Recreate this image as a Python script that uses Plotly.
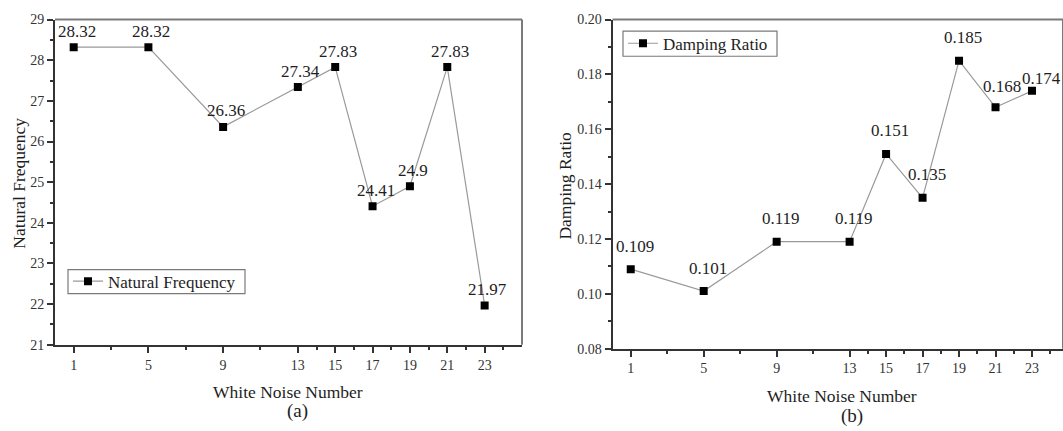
import plotly.graph_objects as go

# White noise test sequence
noise_no = [1, 5, 9, 13, 15, 17, 19, 21, 23]
nat_freq = [28.32, 28.32, 26.36, 27.34, 27.83, 24.41, 24.9, 27.83, 21.97]
damping = [0.109, 0.101, 0.119, 0.119, 0.151, 0.135, 0.185, 0.168, 0.174]

x_major = [1, 5, 9, 13, 15, 17, 19, 21, 23]
x_minor = [3, 7, 11, 14, 16, 18, 20, 22, 24]

FONT = "Liberation Serif"
TXT = "#1e1e1e"
AXIS = "#333333"
BOX = "#7a7a7a"
LINE = "#9a9a9a"

W, H = 1063, 431


def px_x(p):
    return p / W


def px_y(p):
    return 1 - p / H


fig = go.Figure()

fig.add_trace(go.Scatter(
    x=noise_no, y=nat_freq, mode="lines+markers", name="Natural Frequency",
    line=dict(color=LINE, width=1.2),
    marker=dict(symbol="square", size=8, color="#000000"),
    xaxis="x", yaxis="y", legend="legend",
))
fig.add_trace(go.Scatter(
    x=noise_no, y=damping, mode="lines+markers", name="Damping Ratio",
    line=dict(color=LINE, width=1.2),
    marker=dict(symbol="square", size=8, color="#000000"),
    xaxis="x2", yaxis="y2", legend="legend2",
))

tick_font = dict(family=FONT, size=14, color="#333333")


def xaxis_cfg(domain, rng):
    return dict(
        domain=domain, range=rng, tickmode="array", tickvals=x_major,
        ticks="outside", ticklen=6, tickwidth=1.5, tickcolor=AXIS,
        showline=True, linecolor=AXIS, linewidth=2, showgrid=False, zeroline=False,
        tickfont=tick_font,
        minor=dict(tickmode="array", tickvals=x_minor, ticks="outside",
                   ticklen=3, tickwidth=1.5, tickcolor=AXIS, showgrid=False),
    )


def yaxis_cfg(domain, rng, dtick, minor_dtick, fmt, anchor):
    return dict(
        domain=domain, range=rng, dtick=dtick, tick0=rng[0], anchor=anchor,
        ticks="outside", ticklen=6, tickwidth=1.5, tickcolor=AXIS,
        showline=True, linecolor=AXIS, linewidth=2, showgrid=False, zeroline=False,
        tickfont=tick_font, tickformat=fmt,
        minor=dict(dtick=minor_dtick, ticks="outside", ticklen=3, tickwidth=1.5,
                   tickcolor=AXIS, showgrid=False),
    )


dom_a = [px_x(55), px_x(522)]
dom_b = [px_x(612.5), 1.0]
ydom_a = [px_y(350), px_y(13)]
ydom_b = [px_y(354), px_y(13)]

legend_common = dict(xanchor="left", yanchor="middle", borderwidth=0,
                     bgcolor="rgba(0,0,0,0)",
                     font=dict(family=FONT, size=17, color=TXT),
                     tracegroupgap=0, itemwidth=30)

fig.update_layout(
    width=W, height=H, margin=dict(l=0, r=0, t=0, b=0),
    paper_bgcolor="white", plot_bgcolor="white",
    font=dict(family=FONT, color=TXT),
    xaxis=dict(**xaxis_cfg(dom_a, [0, 25]), anchor="y"),
    yaxis=yaxis_cfg(ydom_a, [21, 29], 1, 0.5, "d", "x"),
    xaxis2=dict(**xaxis_cfg(dom_b, [0, 24.7]), anchor="y2"),
    yaxis2=yaxis_cfg(ydom_b, [0.08, 0.20], 0.02, 0.01, ".2f", "x2"),
    legend=dict(x=px_x(68), y=px_y(284.5), **legend_common),
    legend2=dict(x=px_x(623), y=px_y(38), **legend_common),
    showlegend=True,
)

# Plot frames: grey top/right edges
for xr, yr in (("x domain", "y domain"), ("x2 domain", "y2 domain")):
    fig.add_shape(type="line", xref=xr, yref=yr, x0=0, x1=1, y0=1, y1=1,
                  line=dict(color=BOX, width=2), layer="below")
    fig.add_shape(type="line", xref=xr, yref=yr, x0=1, x1=1, y0=0, y1=1,
                  line=dict(color=BOX, width=2), layer="below")

# Legend frames
for (l, t, r, b) in ((68, 272, 245, 297), (623, 25, 777, 51)):
    fig.add_shape(type="rect", xref="paper", yref="paper",
                  x0=px_x(l), x1=px_x(r), y0=px_y(b), y1=px_y(t),
                  line=dict(color=BOX, width=1.2), fillcolor="white", layer="above")

# Value labels above each point
shift_a = {}
shift_b = {7: (6, 21), 8: (10, 12)}
for i, (xv, yv) in enumerate(zip(noise_no, nat_freq)):
    dx, dy = shift_a.get(i, (3, 16))
    fig.add_annotation(x=xv, y=yv, xref="x", yref="y", text=f"{yv:g}",
                       showarrow=False, xshift=dx, yshift=dy, yanchor="middle",
                       font=dict(family=FONT, size=17, color=TXT))
for i, (xv, yv) in enumerate(zip(noise_no, damping)):
    dx, dy = shift_b.get(i, (4, 23))
    fig.add_annotation(x=xv, y=yv, xref="x2", yref="y2", text=f"{yv:g}",
                       showarrow=False, xshift=dx, yshift=dy, yanchor="middle",
                       font=dict(family=FONT, size=17, color=TXT))

# Axis titles and panel captions
title_font = dict(family=FONT, size=17.5, color=TXT)
fig.add_annotation(x=px_x(288), y=px_y(399), xref="paper", yref="paper",
                   text="White Noise Number", showarrow=False, font=title_font,
                   xanchor="center", yanchor="middle")
fig.add_annotation(x=px_x(842), y=px_y(403), xref="paper", yref="paper",
                   text="White Noise Number", showarrow=False, font=title_font,
                   xanchor="center", yanchor="middle")
fig.add_annotation(x=px_x(19), y=px_y(183), xref="paper", yref="paper",
                   text="Natural Frequency", showarrow=False, font=title_font,
                   textangle=-90, xanchor="center", yanchor="middle")
fig.add_annotation(x=px_x(565), y=px_y(185), xref="paper", yref="paper",
                   text="Damping Ratio", showarrow=False, font=title_font,
                   textangle=-90, xanchor="center", yanchor="middle")
fig.add_annotation(x=px_x(297), y=px_y(419), xref="paper", yref="paper",
                   text="(a)", showarrow=False,
                   font=dict(family=FONT, size=19, color=TXT),
                   xanchor="center", yanchor="middle")
fig.add_annotation(x=px_x(852), y=px_y(424), xref="paper", yref="paper",
                   text="(b)", showarrow=False,
                   font=dict(family=FONT, size=19, color=TXT),
                   xanchor="center", yanchor="middle")

fig.write_html("out.html")
